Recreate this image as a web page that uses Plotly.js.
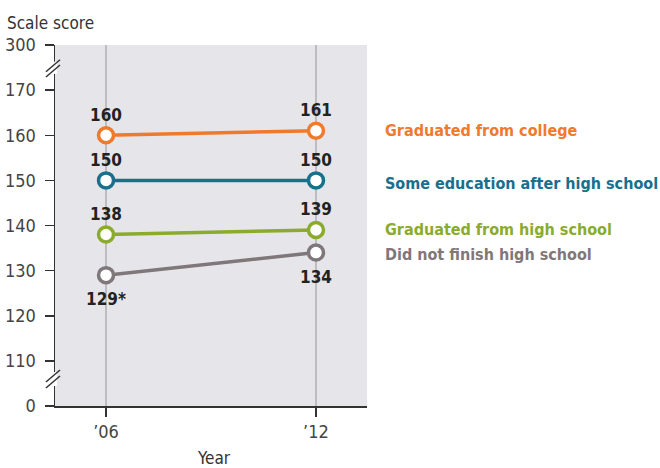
<!DOCTYPE html>
<html>
<head>
<meta charset="utf-8">
<script src="https://cdn.plot.ly/plotly-3.0.1.min.js"></script>
<style>html,body{margin:0;padding:0;background:#fff;}#chart{width:660px;height:468px;}</style>
</head>
<body>
<div id="chart"></div>
<script>
// ---- data ----
const years = ["\u201906", "\u201912"];
const seriesNames = ["Graduated from college", "Some education after high school", "Graduated from high school", "Did not finish high school"];
const college = [160, 161];
const someEducation = [150, 150];
const highSchool = [138, 139];
const noHighSchool = [129, 134];
const collegeLabels = ["160", "161"];
const someEducationLabels = ["150", "150"];
const highSchoolLabels = ["138", "139"];
const noHighSchoolLabels = ["129*", "134"];
// broken axis: display values and their tick labels
const yTickVals = [100, 110, 120, 130, 140, 150, 160, 170, 180];
const yTickText = ["0", "110", "120", "130", "140", "150", "160", "170", "300"];
const legendY = [161, 149.4, 139.1, 133.5];

const colors = ["#f07a2c", "#17708c", "#8aab2c", "#7f7779"];
const FONT = "DejaVu Sans Condensed, Liberation Sans Narrow, sans-serif";
const LABELFONT = {family: FONT, size: 17, color: "#222", weight: 700};

function series(y, labels, color, pos, withText) {
  return {
    x: years, y: y, text: labels, type: "scatter", mode: withText ? "lines+markers+text" : "lines+markers",
    textposition: pos, textfont: LABELFONT,
    line: {color: color, width: 3.5},
    marker: {size: 15, color: "#fff", line: {color: color, width: 3.5}},
    cliponaxis: false, hoverinfo: "skip", showlegend: false
  };
}

const data = [
  series(noHighSchool, noHighSchoolLabels, colors[3], "bottom center", false),
  {x: years, y: noHighSchool, text: noHighSchoolLabels, type: "scatter", mode: "markers+text",
   textposition: "bottom center", textfont: LABELFONT, marker: {size: 26, opacity: 0},
   cliponaxis: false, hoverinfo: "skip", showlegend: false},
  series(highSchool, highSchoolLabels, colors[2], "top center", true),
  series(someEducation, someEducationLabels, colors[1], "top center", true),
  series(college, collegeLabels, colors[0], "top center", true)
];

const annotations = seriesNames.map((n, i) => ({
  text: n, xref: "paper", yref: "y", x: 1.051, y: legendY[i], xanchor: "left", yanchor: "middle",
  showarrow: false, font: {family: FONT, size: 16, color: colors[i], weight: 700}
}));
annotations.push({text: "Scale score", xref: "paper", yref: "paper", x: -0.16, y: 1.0, xanchor: "left", yanchor: "bottom",
  yshift: 10, showarrow: false, font: {family: FONT, size: 17, color: "#333"}});
annotations.push({text: "Year", xref: "paper", yref: "paper", x: 0.51, y: 0, xanchor: "center", yanchor: "top",
  yshift: -40, showarrow: false, font: {family: FONT, size: 17, color: "#333"}});

function brk(yA1, yA2, yB1, yB2, r1, r2) {
  return [
    {type: "rect", xref: "paper", yref: "y", x0: -0.012, x1: 0.006, y0: r1, y1: r2, fillcolor: "#fff", line: {width: 0}, layer: "above"},
    {type: "line", xref: "paper", yref: "y", x0: -0.029, x1: 0.016, y0: yA1, y1: yA2, line: {color: "#333", width: 1.5}, layer: "above"},
    {type: "line", xref: "paper", yref: "y", x0: -0.029, x1: 0.016, y0: yB1, y1: yB2, line: {color: "#333", width: 1.5}, layer: "above"}
  ];
}
const shapes = [].concat(
  brk(174.06, 176.72, 172.9, 175.56, 173.6, 176.3),
  brk(105.32, 107.98, 103.99, 106.65, 104.43, 107.54)
);

const layout = {
  width: 660, height: 468,
  margin: {l: 55, r: 293, t: 45, b: 62},
  paper_bgcolor: "#fff", plot_bgcolor: "#e6e6ea",
  font: {family: FONT, size: 17, color: "#444"},
  xaxis: {type: "category", range: [-0.243, 1.243], showgrid: true, gridcolor: "#bdbdc1", gridwidth: 1.5,
    showline: true, linecolor: "#333", linewidth: 1.5, ticks: "outside", ticklen: 9, tickwidth: 1.5, tickcolor: "#333",
    tickfont: {family: FONT, size: 18, color: "#444"}, zeroline: false, fixedrange: true},
  yaxis: {range: [100, 180], tickvals: yTickVals, ticktext: yTickText, showgrid: false, zeroline: false,
    showline: true, linecolor: "#333", linewidth: 1.5, ticks: "outside", ticklen: 9, tickwidth: 1.5, tickcolor: "#333",
    ticklabelstandoff: 5,
    tickfont: {family: FONT, size: 18, color: "#444"}, fixedrange: true},
  annotations: annotations,
  shapes: shapes
};

Plotly.newPlot("chart", data, layout, {staticPlot: true, displayModeBar: false});
</script>
</body>
</html>
